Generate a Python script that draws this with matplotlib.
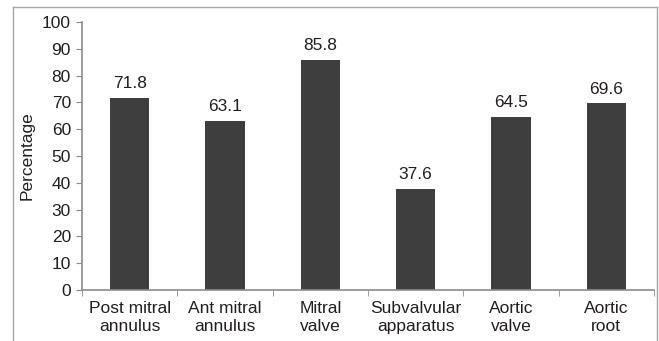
import matplotlib
matplotlib.use('Agg')
import matplotlib.pyplot as plt
from matplotlib.lines import Line2D
import numpy as np

categories = ['Post mitral\nannulus', 'Ant mitral\nannulus', 'Mitral\nvalve',
              'Subvalvular\napparatus', 'Aortic\nvalve', 'Aortic\nroot']
values = [71.8, 63.1, 85.8, 37.6, 64.5, 69.6]
yticks = [0, 10, 20, 30, 40, 50, 60, 70, 80, 90, 100]

plt.rcParams['font.family'] = ['Liberation Sans', 'DejaVu Sans']
plt.rcParams['font.size'] = 12.5
TEXT = '#231f20'
AXIS = '#8c8c8c'

fig = plt.figure(figsize=(6.59, 3.41), dpi=100)
ax = fig.add_axes([82 / 659, 1 - 290 / 341, 572 / 659, 268 / 341])

x = np.arange(len(values))
bars = ax.bar(x, values, width=0.41, color='#3d3e3d', zorder=2)
for b, v in zip(bars, values):
    ax.annotate(f'{v:.1f}', (b.get_x() + b.get_width() / 2, v), xytext=(0, 5),
                textcoords='offset points', ha='center', va='bottom', color=TEXT)

ax.set_xlim(-0.5, len(values) - 0.5)
ax.set_ylim(0, 100)
ax.set_yticks(yticks)
ax.set_xticks(x)
ax.set_xticklabels(categories, color=TEXT, linespacing=1.2)
ax.set_xticks(np.arange(-0.5, len(values)), minor=True)
ax.tick_params(axis='x', which='major', length=0, pad=8)
ax.tick_params(axis='x', which='minor', length=4, color=AXIS, direction='out')
ax.tick_params(axis='y', length=4, color=AXIS, pad=4, labelcolor=TEXT)

for s in ['top', 'right']:
    ax.spines[s].set_visible(False)
for s in ['left', 'bottom']:
    ax.spines[s].set_color(AXIS)
    ax.spines[s].set_linewidth(1.2)

fig.text(27 / 659, 1 - 156 / 341, 'Percentage', rotation=90, ha='center',
         va='center', color=TEXT)

# outer chart frame (bottom edge cut off)
fc = '#a6a6a6'
l, r, t = 13 / 659, 657 / 659, 1 - 7 / 341
fig.add_artist(Line2D([l, l], [0, t], color=fc, lw=1))
fig.add_artist(Line2D([l, r], [t, t], color=fc, lw=1))
fig.add_artist(Line2D([r, r], [0, t], color=fc, lw=1))

fig.savefig('out.png', dpi=100)
